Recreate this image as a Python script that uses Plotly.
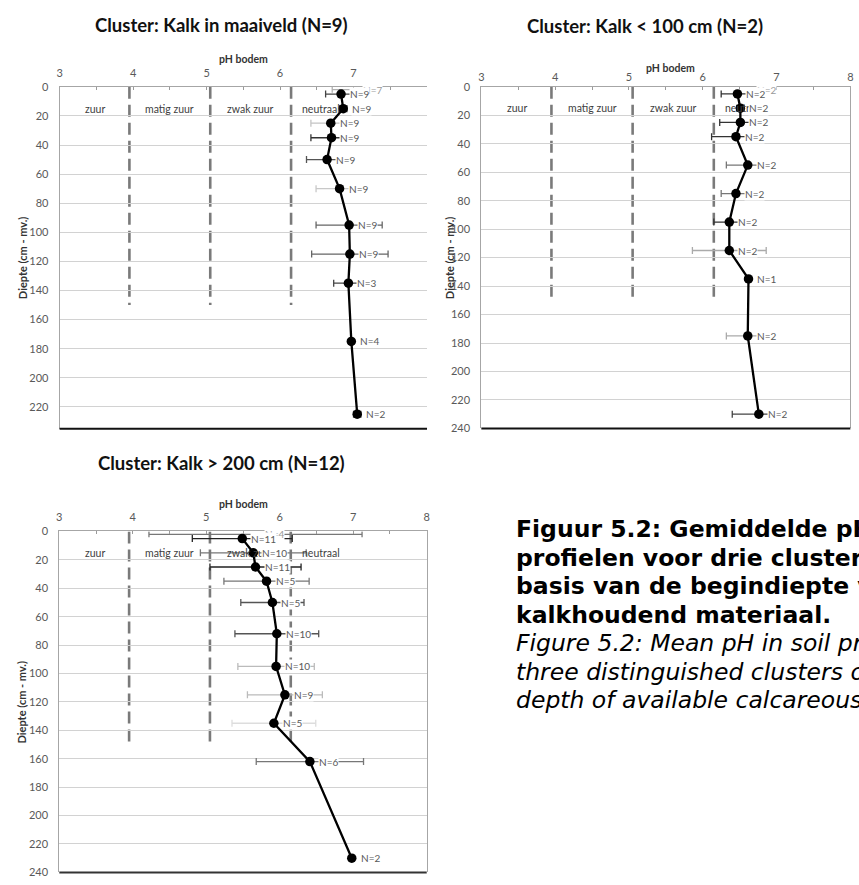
import plotly.graph_objects as go

W, H = 859, 885

# ---------------- data ----------------
zone_bounds = [3.95, 5.05, 6.15]
zone_names = ["zuur", "matig zuur", "zwak zuur", "neutraal"]
zone_centers = [3.48, 4.5, 5.6, 6.56]
zone_text_depth = 15
zone_line_depth = 150

ph_ticks_full = [3, 4, 5, 6, 7, 8]
ph_ticks_c1 = [3, 4, 5, 6, 7]
ph_minor = [3.5, 4.5, 5.5, 6.5, 7.5]
depth_ticks = [0, 20, 40, 60, 80, 100, 120, 140, 160, 180, 200, 220, 240]

# Cluster: Kalk in maaiveld
c1_title = "Cluster: Kalk in maaiveld (N=9)"
c1_depth = [5, 15, 25, 35, 50, 70, 95, 115, 135, 175, 225]
c1_ph = [6.83, 6.86, 6.69, 6.70, 6.64, 6.81, 6.94, 6.95, 6.93, 6.97, 7.05]
c1_sd = [0.21, 0.05, 0.27, 0.28, 0.28, 0.32, 0.45, 0.52, 0.20, 0.0, 0.05]
c1_n = ["N=9", "N=9", "N=9", "N=9", "N=9", "N=9", "N=9", "N=9", "N=3", "N=4", "N=2"]
c1_top_depth = [2]
c1_top_ph = [7.0]
c1_top_sd = [0.29]
c1_top_n = ["N=7"]

# Cluster: Kalk < 100 cm
c2_title = "Cluster: Kalk < 100 cm (N=2)"
c2_depth = [5, 15, 25, 35, 55, 75, 95, 115, 135, 175, 230]
c2_ph = [6.47, 6.51, 6.51, 6.45, 6.61, 6.45, 6.36, 6.36, 6.62, 6.61, 6.76]
c2_sd = [0.22, 0.05, 0.28, 0.33, 0.29, 0.20, 0.21, 0.50, 0.0, 0.29, 0.36]
c2_n = ["N=2", "N=2", "N=2", "N=2", "N=2", "N=2", "N=2", "N=2", "N=1", "N=2", "N=2"]
c2_top_depth = [2]
c2_top_ph = [6.62]
c2_top_sd = [0.0]
c2_top_n = ["N=2"]

# Cluster: Kalk > 200 cm
c3_title = "Cluster: Kalk > 200 cm (N=12)"
c3_depth = [5, 15, 25, 35, 50, 72, 95, 115, 135, 162, 230]
c3_ph = [5.49, 5.64, 5.67, 5.82, 5.90, 5.96, 5.95, 6.07, 5.92, 6.41, 6.98]
c3_sd = [0.68, 0.72, 0.62, 0.58, 0.43, 0.57, 0.52, 0.51, 0.57, 0.73, 0.0]
c3_n = ["N=11", "N=10", "N=11", "N=5", "N=5", "N=10", "N=10", "N=9", "N=5", "N=6", "N=2"]
c3_top_depth = [2]
c3_top_ph = [5.67]
c3_top_sd = [1.45]
c3_top_n = ["N=4"]

caption_bold = [
    "Figuur 5.2: Gemiddelde pH in bodem-",
    "profielen voor drie clusters op",
    "basis van de begindiepte van",
    "kalkhoudend materiaal.",
]
caption_italic = [
    "Figure 5.2: Mean pH in soil profiles for",
    "three distinguished clusters on the basis of the",
    "depth of available calcareous material.",
]

x_title = "pH bodem"
y_title = "Diepte (cm - mv.)"

# ---------------- styles ----------------
c1_err_col = ["#444", "#444", "#c4c4c4", "#333", "#555", "#c8c8c8", "#666", "#666", "#444", "#444", "#444"]
c2_err_col = ["#333", "#333", "#333", "#333", "#777", "#777", "#333", "#aaa", "#333", "#aaa", "#444"]
c3_err_col = ["#222", "#777", "#222", "#777", "#555", "#555", "#bbb", "#bbb", "#ddd", "#777", "#444"]


def px(x):
    return x / W


def py(y):
    return 1 - y / H


charts = [
    dict(title=c1_title, depth=c1_depth, ph=c1_ph, sd=c1_sd, n=c1_n,
         tdepth=c1_top_depth, tph=c1_top_ph, tsd=c1_top_sd, tn=c1_top_n,
         errcol=c1_err_col, topcol="#b0b0b0", ticks=ph_ticks_c1,
         xpx=(57, 427), ypx=(81, 428), ymax=235, mirror=False,
         title_pos=(220, 18.5), xt_pos=(242, 53), yt_pos=(19, 254),
         standoff=4, bottom_col="#111"),
    dict(title=c2_title, depth=c2_depth, ph=c2_ph, sd=c2_sd, n=c2_n,
         tdepth=c2_top_depth, tph=c2_top_ph, tsd=c2_top_sd, tn=c2_top_n,
         errcol=c2_err_col, topcol="#b0b0b0", ticks=ph_ticks_full,
         xpx=(481.7, 853.3), ypx=(81, 427.7), ymax=240, mirror=True,
         title_pos=(647, 19.5), xt_pos=(672, 62), yt_pos=(449, 254),
         standoff=0, bottom_col="#111"),
    dict(title=c3_title, depth=c3_depth, ph=c3_ph, sd=c3_sd, n=c3_n,
         tdepth=c3_top_depth, tph=c3_top_ph, tsd=c3_top_sd, tn=c3_top_n,
         errcol=c3_err_col, topcol="#777", ticks=ph_ticks_full,
         xpx=(56.7, 426.7), ypx=(532.3, 878.3), ymax=240, mirror=True,
         title_pos=(220, 463), xt_pos=(242, 504), yt_pos=(19, 705),
         standoff=5, bottom_col="#333"),
]

fig = go.Figure()
shapes = []
annotations = []
layout = {}

tickfont = dict(family="Lato", size=11, color="#595959")

for i, ch in enumerate(charts, start=1):
    xa = "x" if i == 1 else f"x{i}"
    ya = "y" if i == 1 else f"y{i}"
    xkey = "xaxis" if i == 1 else f"xaxis{i}"
    ykey = "yaxis" if i == 1 else f"yaxis{i}"

    layout[xkey] = dict(
        domain=[px(ch["xpx"][0]), px(ch["xpx"][1])], range=[3, 8], side="top",
        anchor=ya, tickvals=ch["ticks"], ticks="inside", ticklen=3, tickcolor="#9a9a9a",
        showline=True, linecolor="#a6a6a6", linewidth=1, showgrid=False, zeroline=False,
        tickfont=tickfont, ticklabelstandoff=ch["standoff"],
        minor=dict(tickvals=ph_minor, ticks="inside", ticklen=3, tickcolor="#9a9a9a", showgrid=False),
        fixedrange=True,
    )
    layout[ykey] = dict(
        domain=[py(ch["ypx"][1]), py(ch["ypx"][0])], range=[ch["ymax"], 0],
        anchor=xa, tickvals=[t for t in depth_ticks if t <= ch["ymax"]],
        showgrid=True, gridcolor="#d2d2d2", gridwidth=1, zeroline=False,
        showline=True, linecolor="#a6a6a6", linewidth=1, mirror=ch["mirror"],
        ticks="", tickfont=tickfont, ticklabelstandoff=8, fixedrange=True,
    )

    # zone boundaries (dashed)
    for b in zone_bounds:
        shapes.append(dict(type="line", xref=xa, yref=ya, x0=b, x1=b, y0=0, y1=zone_line_depth,
                           line=dict(color="#7a7a7a", width=2.6, dash="12px,6px"), layer="below"))
    # bottom border
    shapes.append(dict(type="line", xref=f"{xa} domain", yref=f"{ya} domain", x0=0, x1=1, y0=0, y1=0,
                       line=dict(color=ch["bottom_col"], width=2), layer="above"))

    # zone names
    for name, c in zip(zone_names, zone_centers):
        annotations.append(dict(x=c, y=zone_text_depth, xref=xa, yref=ya, text=name, showarrow=False,
                                font=dict(family="Lato", size=10.5, color="#404040")))

    # faint top series (error bar + label only)
    for d, p, s, n in zip(ch["tdepth"], ch["tph"], ch["tsd"], ch["tn"]):
        if s > 0:
            fig.add_trace(go.Scatter(x=[p], y=[d], mode="markers", xaxis=xa, yaxis=ya,
                                     marker=dict(size=1, opacity=0), showlegend=False, hoverinfo="skip",
                                     error_x=dict(type="data", array=[s], color=ch["topcol"], thickness=1.3, width=3)))
        annotations.append(dict(x=p, y=d, xref=xa, yref=ya, text=n, showarrow=False, xanchor="left",
                                xshift=8, bgcolor="white", borderpad=0,
                                font=dict(family="Lato", size=10, color="#9a9a9a")))

    # error bars per point
    for d, p, s, col in zip(ch["depth"], ch["ph"], ch["sd"], ch["errcol"]):
        if s > 0:
            fig.add_trace(go.Scatter(x=[p], y=[d], mode="markers", xaxis=xa, yaxis=ya,
                                     marker=dict(size=1, opacity=0), showlegend=False, hoverinfo="skip",
                                     error_x=dict(type="data", array=[s], color=col, thickness=1.3, width=3.5)))

    # mean profile
    fig.add_trace(go.Scatter(x=ch["ph"], y=ch["depth"], mode="lines+markers", xaxis=xa, yaxis=ya,
                             line=dict(color="black", width=2.3), marker=dict(size=9.5, color="black"),
                             showlegend=False, hoverinfo="skip"))

    # N labels
    for d, p, n in zip(ch["depth"], ch["ph"], ch["n"]):
        annotations.append(dict(x=p, y=d, xref=xa, yref=ya, text=n, showarrow=False, xanchor="left",
                                xshift=8, bgcolor="white", borderpad=0,
                                font=dict(family="Lato", size=10, color="#595959")))

    # titles
    annotations.append(dict(x=px(ch["title_pos"][0]), y=py(ch["title_pos"][1]), xref="paper", yref="paper",
                            text=f"<b>{ch['title']}</b>", showarrow=False, xanchor="center", yanchor="middle",
                            font=dict(family="Lato", size=18.5, color="#111")))
    annotations.append(dict(x=px(ch["xt_pos"][0]), y=py(ch["xt_pos"][1]), xref="paper", yref="paper",
                            text=f"<b>{x_title}</b>", showarrow=False, xanchor="center", yanchor="middle",
                            font=dict(family="Lato", size=10.5, color="#333")))
    annotations.append(dict(x=px(ch["yt_pos"][0]), y=py(ch["yt_pos"][1]), xref="paper", yref="paper",
                            text=f"<b>{y_title}</b>", showarrow=False, xanchor="center", yanchor="middle",
                            textangle=-90, font=dict(family="Lato", size=11, color="#333")))

# caption
cap_x = 515
cap_y0 = 530
cap_step = 28.9
for k, line in enumerate(caption_bold + caption_italic):
    txt = f"<b>{line}</b>" if k < len(caption_bold) else f"<i>{line}</i>"
    annotations.append(dict(x=px(cap_x), y=py(cap_y0 + k * cap_step), xref="paper", yref="paper",
                            text=txt, showarrow=False, xanchor="left", yanchor="middle",
                            font=dict(family="DejaVu Sans", size=23.5, color="#000")))

fig.update_layout(
    width=W, height=H, margin=dict(l=0, r=0, t=0, b=0),
    paper_bgcolor="white", plot_bgcolor="white",
    shapes=shapes, annotations=annotations, showlegend=False,
    **layout,
)

fig.write_html("out.html", config={"displayModeBar": False})
